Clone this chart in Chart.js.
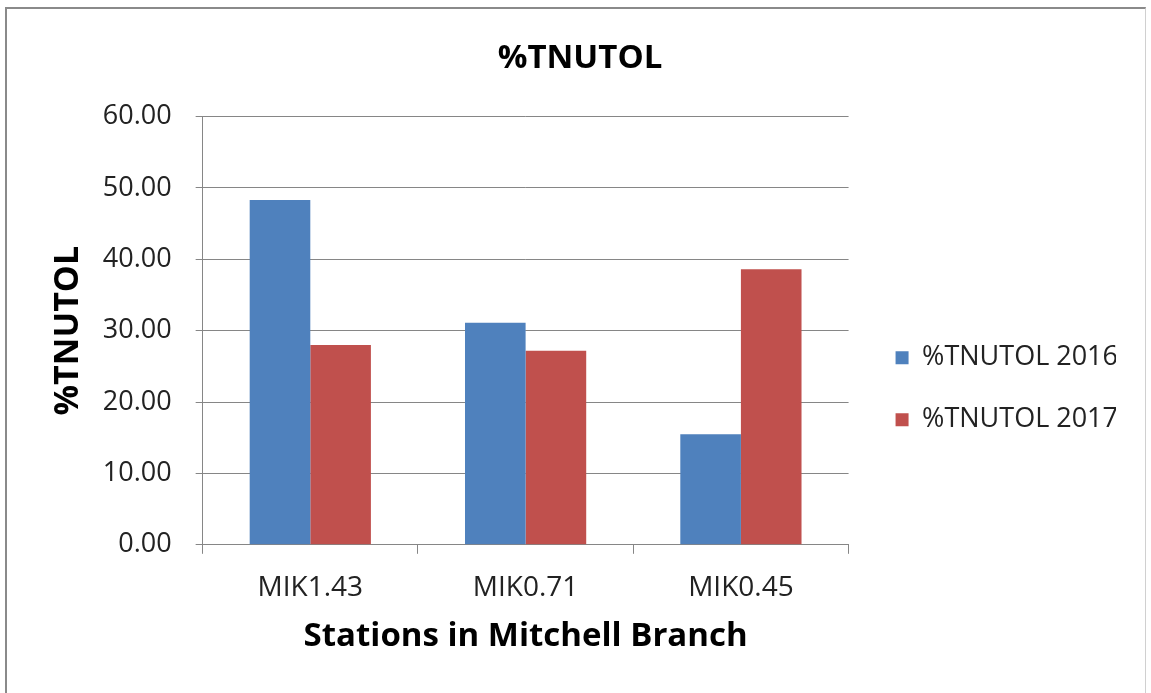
<!DOCTYPE html>
<html>
<head>
<meta charset="utf-8">
<script src="https://cdn.jsdelivr.net/npm/chart.js@4/dist/chart.umd.min.js"></script>
<style>
  html, body { margin: 0; padding: 0; background: #fff; }
  #wrap { position: relative; width: 1151px; height: 693px; }
  #frame {
    position: absolute; left: 5px; top: 7px; width: 1138px; height: 700px;
    border-left: 2px solid #8a8a8a; border-top: 2px solid #8a8a8a; border-right: 1px solid #d0d0d0;
  }
  canvas { position: absolute; left: 0; top: 0; }
</style>
</head>
<body>
<div id="wrap">
  <div id="frame"></div>
  <canvas id="grafico" width="1151" height="693"></canvas>
</div>
<script>
// Estaciones y valores de %TNUTOL
const estaciones = ["MIK1.43", "MIK0.71", "MIK0.45"];
const tnutol2016 = [48.3, 31.1, 15.5];
const tnutol2017 = [28.0, 27.2, 38.6];
const ticksY = [0, 10, 20, 30, 40, 50, 60];

const fuente = "'Open Sans', sans-serif";

// correr la leyenda un poco a la derecha, como en el original
const moverLeyenda = {
  id: 'moverLeyenda',
  afterLayout(chart) {
    chart.legend.left += 12;
  }
};

new Chart(document.getElementById("grafico"), {
  type: 'bar',
  data: {
    labels: estaciones,
    datasets: [{
      label: '%TNUTOL 2016',
      data: tnutol2016,
      backgroundColor: '#4F81BD',
      borderWidth: 0,
      barPercentage: 1,
      categoryPercentage: 0.563
    }, {
      label: '%TNUTOL 2017',
      data: tnutol2017,
      backgroundColor: '#C0504D',
      borderWidth: 0,
      barPercentage: 1,
      categoryPercentage: 0.563
    }]
  },
  plugins: [moverLeyenda],
  options: {
    responsive: false,
    animation: false,
    layout: {
      padding: { top: 20, left: 44, right: 35, bottom: 37 }
    },
    plugins: {
      tooltip: { enabled: false },
      title: {
        display: true,
        text: '%TNUTOL',
        color: '#000',
        font: { family: fuente, size: 33, weight: 'bold' },
        padding: { top: 19, bottom: 38 }
      },
      legend: {
        position: 'right',
        title: { display: true, text: '', padding: { top: 0, bottom: 87 } },
        labels: {
          color: '#222',
          font: { family: fuente, size: 27 },
          boxWidth: 13,
          boxHeight: 13,
          padding: 35
        }
      }
    },
    scales: {
      x: {
        grid: {
          drawOnChartArea: false,
          drawTicks: true,
          tickLength: 9,
          color: '#868686',
          offset: true
        },
        border: { color: '#868686', width: 1 },
        ticks: {
          color: '#222',
          font: { family: fuente, size: 28 },
          padding: 17
        },
        title: {
          display: true,
          text: 'Stations in Mitchell Branch',
          color: '#000',
          font: { family: fuente, size: 33, weight: 'bold' },
          padding: { top: -5, bottom: 0 }
        }
      },
      y: {
        min: 0,
        max: 60,
        afterBuildTicks: axis => { axis.ticks = ticksY.map(v => ({ value: v })); },
        grid: {
          color: '#868686',
          tickLength: 7,
          drawTicks: true
        },
        border: { color: '#868686', width: 1 },
        ticks: {
          color: '#222',
          font: { family: fuente, size: 27 },
          padding: 24,
          callback: function(value) {
            return Number(value).toFixed(2);
          }
        },
        title: {
          display: true,
          text: '%TNUTOL',
          color: '#000',
          font: { family: fuente, size: 34, weight: 'bold' },
          padding: { top: 4, bottom: -10 }
        }
      }
    }
  }
});
</script>
</body>
</html>
